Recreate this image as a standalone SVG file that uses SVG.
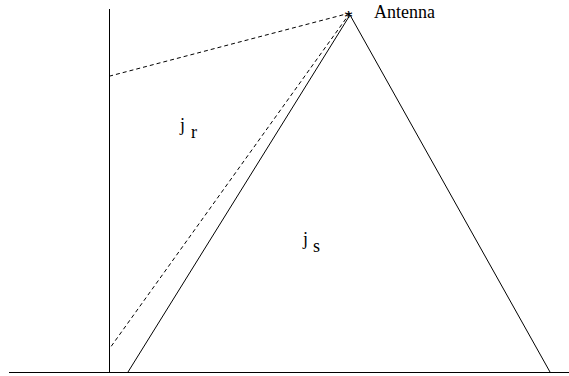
<svg xmlns="http://www.w3.org/2000/svg" width="569" height="376" viewBox="0 0 569 376">
<style>
.l{stroke:#000;stroke-width:1;fill:none}
.d{stroke:#000;stroke-width:1;fill:none;stroke-dasharray:4,3}
.t{font-family:"Liberation Serif",serif;font-size:18px;fill:#000}
</style>
<rect width="569" height="376" fill="#fff"/>
<g id="connectors">
<line class="l" x1="9" y1="372.5" x2="569" y2="372.5"/>
<line class="l" x1="109.5" y1="9" x2="109.5" y2="372"/>
<polyline class="l" points="128,372 350,15 550,372"/>
<line class="d" x1="350" y1="13" x2="110" y2="76"/>
<line class="d" x1="350" y1="13" x2="110" y2="348"/>
</g>
<g id="antenna">
<text class="t" x="344" y="24">*</text>
<text class="t" x="374" y="18">Antenna</text>
</g>
<g id="jr">
<text class="t" x="180" y="131">j</text>
<text class="t" x="191" y="138">r</text>
</g>
<g id="js">
<text class="t" x="303" y="245">j</text>
<text class="t" x="313" y="252">s</text>
</g>
</svg>
